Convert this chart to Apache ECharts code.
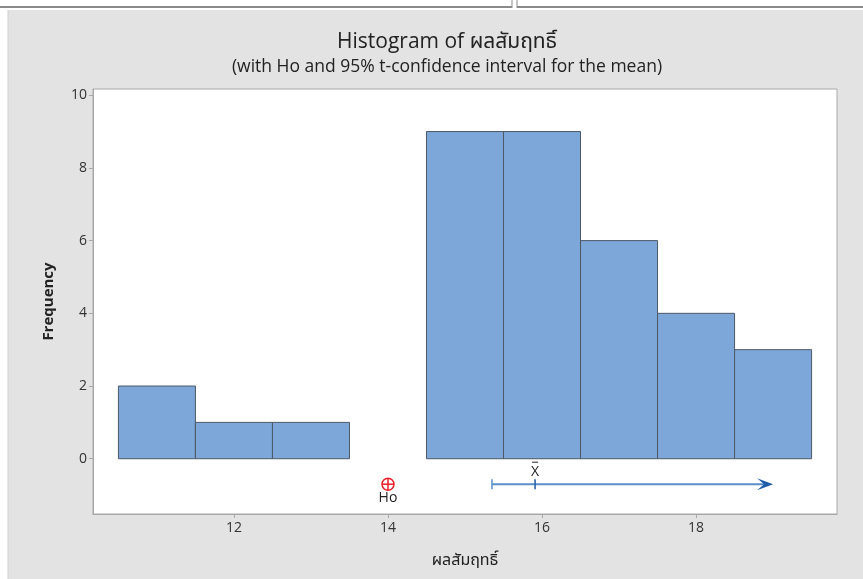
<!DOCTYPE html>
<html>
<head>
<meta charset="utf-8">
<script src="https://cdn.jsdelivr.net/npm/echarts@6/dist/echarts.min.js"></script>
<style>
html,body{margin:0;padding:0;background:#fff;}
#c{width:863px;height:579px;}
</style>
</head>
<body>
<div id="c"></div>
<script>
// ---- data ----
var binStarts = [10.5, 11.5, 12.5, 13.5, 14.5, 15.5, 16.5, 17.5, 18.5];
var binWidth = 1;
var counts = [2, 1, 1, 0, 9, 9, 6, 4, 3];
var xTicks = [12, 14, 16, 18];
var yTicks = [0, 2, 4, 6, 8, 10];
var hoValue = 14;
var ciLower = 15.35;
var meanValue = 15.91;
var ciArrowEnd = 19.0;
var ciY = -0.7;
var titleText = 'Histogram of ผลสัมฤทธิ์';
var subText = '(with Ho and 95% t-confidence interval for the mean)';
var xName = 'ผลสัมฤทธิ์';
var yName = 'Frequency';

var FONT = '"Open Sans", "Noto Sans", "Noto Sans Thai", sans-serif';

var histData = binStarts.map(function (s, i) { return [s, s + binWidth, counts[i]]; });

var chart = echarts.init(document.getElementById('c'), null, {renderer: 'canvas'});
var option = {
  backgroundColor: '#ffffff',
  animation: false,
  graphic: [
    {type: 'rect', shape: {x: 8, y: 10, width: 855, height: 569}, style: {fill: '#E3E3E3'}, z: -10},
    {type: 'line', shape: {x1: 8, y1: 10, x2: 8, y2: 579}, style: {stroke: '#CFCFCF', lineWidth: 1}, z: -9},
    {type: 'line', shape: {x1: 0, y1: 7, x2: 512, y2: 7}, style: {stroke: '#8A8A8A', lineWidth: 2}, z: -9},
    {type: 'line', shape: {x1: 517, y1: 7, x2: 863, y2: 7}, style: {stroke: '#8A8A8A', lineWidth: 2}, z: -9},
    {type: 'line', shape: {x1: 512, y1: 0, x2: 512, y2: 8}, style: {stroke: '#8A8A8A', lineWidth: 1}, z: -9},
    {type: 'line', shape: {x1: 517, y1: 0, x2: 517, y2: 8}, style: {stroke: '#8A8A8A', lineWidth: 1}, z: -9}
  ],
  title: [
    {text: titleText, left: 442, top: 27, textAlign: 'center',
     textStyle: {fontFamily: FONT, fontSize: 21, fontWeight: 'normal', color: '#222'}},
    {text: subText, left: 442, top: 53, textAlign: 'center',
     textStyle: {fontFamily: FONT, fontSize: 17.5, fontWeight: 'normal', color: '#222'}}
  ],
  grid: {left: 93, right: 26, top: 89, bottom: 65, show: true, backgroundColor: '#ffffff',
         borderColor: '#A8A8A8', borderWidth: 1},
  xAxis: {
    type: 'value', min: 10.17, max: 19.83,
    name: xName, nameLocation: 'middle', nameGap: 38,
    nameTextStyle: {fontFamily: FONT, fontSize: 16, color: '#222'},
    axisLine: {show: true, onZero: false, lineStyle: {color: '#A8A8A8'}},
    axisTick: {show: true, length: 4, lineStyle: {color: '#A8A8A8'}, customValues: xTicks},
    axisLabel: {fontFamily: FONT, fontSize: 14, color: '#333', margin: 7, customValues: xTicks},
    splitLine: {show: false}
  },
  yAxis: {
    type: 'value', min: -1.52, max: 10.17,
    name: yName, nameLocation: 'middle', nameGap: 37,
    nameTextStyle: {fontFamily: FONT, fontSize: 15, fontWeight: 'bold', color: '#222'},
    axisLine: {show: true, onZero: false, lineStyle: {color: '#A8A8A8'}},
    axisTick: {show: true, length: 4, lineStyle: {color: '#A8A8A8'}, customValues: yTicks},
    axisLabel: {fontFamily: FONT, fontSize: 14, color: '#333', margin: 6, customValues: yTicks},
    splitLine: {show: false}
  },
  series: [
    {
      type: 'custom',
      data: histData,
      renderItem: function (params, api) {
        var p0 = api.coord([api.value(0), api.value(2)]);
        var p1 = api.coord([api.value(1), 0]);
        if (api.value(2) === 0) return null;
        return {
          type: 'rect',
          shape: {x: p0[0], y: p0[1], width: p1[0] - p0[0], height: p1[1] - p0[1]},
          style: {fill: '#7DA7D9', stroke: '#4C5866', lineWidth: 1}
        };
      }
    },
    {
      type: 'custom',
      data: [[hoValue, ciY]],
      renderItem: function (params, api) {
        var p = api.coord([api.value(0), api.value(1)]);
        var r = 6;
        return {
          type: 'group',
          children: [
            {type: 'circle', shape: {cx: p[0], cy: p[1], r: r}, style: {fill: 'none', stroke: '#E8202A', lineWidth: 1.5}},
            {type: 'line', shape: {x1: p[0] - r, y1: p[1], x2: p[0] + r, y2: p[1]}, style: {stroke: '#E8202A', lineWidth: 1.5}},
            {type: 'line', shape: {x1: p[0], y1: p[1] - r, x2: p[0], y2: p[1] + r}, style: {stroke: '#E8202A', lineWidth: 1.5}},
            {type: 'text', style: {text: 'Ho', x: p[0], y: p[1] + 7, align: 'center', verticalAlign: 'top',
              font: '14px ' + FONT, fill: '#222'}}
          ]
        };
      }
    },
    {
      type: 'custom',
      data: [[ciLower, meanValue, ciArrowEnd, ciY]],
      renderItem: function (params, api) {
        var y = api.value(3);
        var a = api.coord([api.value(0), y]);
        var m = api.coord([api.value(1), y]);
        var e = api.coord([api.value(2), y]);
        var col = '#5B8FCB';
        var dark = '#1E5DAA';
        return {
          type: 'group',
          children: [
            {type: 'line', shape: {x1: a[0], y1: a[1], x2: e[0] - 6, y2: e[1]}, style: {stroke: col, lineWidth: 2}},
            {type: 'line', shape: {x1: a[0], y1: a[1] - 5, x2: a[0], y2: a[1] + 5}, style: {stroke: col, lineWidth: 1.5}},
            {type: 'line', shape: {x1: m[0], y1: m[1] - 5, x2: m[0], y2: m[1] + 5}, style: {stroke: dark, lineWidth: 1.5}},
            {type: 'polygon', shape: {points: [[e[0] - 16, e[1] - 6], [e[0], e[1]], [e[0] - 16, e[1] + 6], [e[0] - 9, e[1]]]},
              style: {fill: dark}},
            {type: 'text', style: {text: 'X', x: m[0], y: m[1] - 5, align: 'center', verticalAlign: 'bottom',
              font: '14px ' + FONT, fill: '#222'}},
            {type: 'line', shape: {x1: m[0] - 3, y1: m[1] - 22, x2: m[0] + 3, y2: m[1] - 22}, style: {stroke: '#222', lineWidth: 1}}
          ]
        };
      }
    }
  ]
};
chart.setOption(option);
</script>
</body>
</html>
